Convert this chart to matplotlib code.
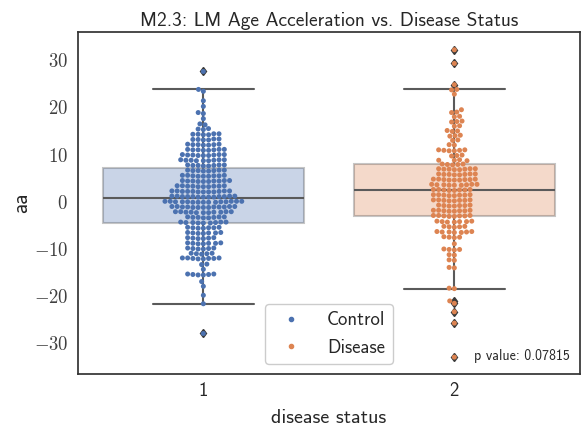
import matplotlib
matplotlib.use('Agg')
import matplotlib.pyplot as plt
from matplotlib.lines import Line2D
from matplotlib.ticker import FuncFormatter
import numpy as np
import pandas as pd
import seaborn as sns

control = [
    27.6,
    23.8, 23.4, 21.4, 20.2, 18.9, 18.7, 17.6, 16.5, 16.3,
    15.4, 15.5, 15.3,
    14.3, 14.4, 14.2, 14.3, 14.4, 14.2,
    13.2, 13.3, 13.1, 13.2, 13.3, 13.1,
    12.1, 12.2, 12.0, 12.1, 12.2, 12.0, 12.1,
    11.0, 11.1, 10.9, 11.0, 11.1, 10.9, 11.0, 11.1,
    9.9, 10.0, 9.8, 9.9, 10.0, 9.8, 9.9, 10.0, 9.8,
    8.8, 8.9, 8.7, 8.8, 8.9, 8.7, 8.8, 8.9, 8.7,
    7.7, 7.8, 7.6, 7.7, 7.8, 7.6, 7.7, 7.8,
    6.6, 6.7, 6.5, 6.6, 6.7, 6.5, 6.6, 6.7,
    5.5, 5.6, 5.4, 5.5, 5.6, 5.4, 5.5, 5.6, 5.4,
    4.4, 4.5, 4.3, 4.4, 4.5, 4.3, 4.4, 4.5, 4.3, 4.4,
    3.3, 3.4, 3.2, 3.3, 3.4, 3.2, 3.3, 3.4, 3.2, 3.3,
    2.2, 2.3, 2.1, 2.2, 2.3, 2.1, 2.2, 2.3, 2.1, 2.2, 2.3, 2.1,
    1.1, 1.2, 1.0, 1.1, 1.2, 1.0, 1.1, 1.2, 1.0, 1.1, 1.2, 1.0, 1.1,
    0.0, 0.1, -0.1, 0.0, 0.1, -0.1, 0.0, 0.1, -0.1, 0.0, 0.1, -0.1, 0.0, 0.1, -0.1,
    -1.1, -1.0, -1.2, -1.1, -1.0, -1.2, -1.1, -1.0, -1.2, -1.1, -1.0, -1.2, -1.1,
    -2.2, -2.1, -2.3, -2.2, -2.1, -2.3, -2.2, -2.1, -2.3, -2.2, -2.1,
    -3.3, -3.2, -3.4, -3.3, -3.2, -3.4, -3.3, -3.2,
    -4.4, -4.3, -4.5, -4.4, -4.3, -4.5, -4.4, -4.3, -4.5,
    -5.5, -5.4, -5.6, -5.5, -5.4, -5.6, -5.5,
    -6.6, -6.5, -6.7, -6.6, -6.5, -6.7, -6.6,
    -7.7, -7.6, -7.8, -7.7, -7.6, -7.8,
    -8.8, -8.7, -8.9, -8.8, -8.7, -8.9, -8.8,
    -9.9, -9.8, -10.0, -9.9, -9.8, -10.0,
    -11.0, -10.9, -11.1, -11.0, -10.9,
    -12.0, -11.9, -12.1, -12.0, -11.9, -12.1, -12.0, -11.9,
    -13.2, -13.3, -14.3,
    -15.4, -15.3, -15.5, -15.4, -15.3, -15.5,
    -16.9, -17.9, -19.8, -21.6,
    -27.9,
]

disease = [
    32.2, 29.3, 24.8,
    23.8, 23.7, 22.8, 19.5, 18.9, 19.0,
    18.0, 18.1,
    17.0, 17.1, 16.9,
    16.0, 16.1,
    15.0, 15.1, 14.9,
    14.0, 14.1, 13.9,
    13.0, 13.1,
    12.0, 12.1,
    10.9, 11.0, 10.8, 10.9, 11.0, 10.8,
    9.8, 9.9, 9.7,
    8.8, 8.9, 8.7, 8.8,
    7.9, 8.0, 7.8, 7.9, 8.0,
    6.9, 7.0, 6.8, 6.9, 7.0, 6.8, 6.9, 7.0,
    5.8, 5.9, 5.7, 5.8, 5.9, 5.7, 5.8, 5.9,
    4.7, 4.8, 4.6, 4.7, 4.8, 4.6, 4.7, 4.8, 4.6,
    3.6, 3.7, 3.5, 3.6, 3.7, 3.5, 3.6, 3.7, 3.5,
    2.5, 2.6, 2.4, 2.5, 2.6, 2.4, 2.5, 2.6,
    1.4, 1.5, 1.3, 1.4, 1.5, 1.3, 1.4, 1.5,
    0.3, 0.4, 0.2, 0.3, 0.4, 0.2, 0.3, 0.4,
    -0.8, -0.7, -0.9, -0.8, -0.7, -0.9, -0.8,
    -1.9, -1.8, -2.0, -1.9, -1.8, -2.0, -1.9, -1.8,
    -3.0, -2.9, -3.1, -3.0, -2.9, -3.1, -3.0, -2.9,
    -4.2, -4.1, -4.3, -4.2, -4.1, -4.3, -4.2,
    -5.3, -5.2, -5.4, -5.3, -5.2,
    -6.4, -6.3, -6.5, -6.4, -6.3, -6.5, -6.4,
    -7.5, -7.4, -7.6, -7.5,
    -8.9,
    -10.1, -10.0, -10.2, -10.1,
    -11.2, -11.3,
    -12.3, -12.4,
    -13.9, -14.0,
    -18.4, -18.3,
    -21.0, -21.5, -23.3, -25.7, -32.9,
]

groups = ['Control', 'Disease']
status_labels = ['1', '2']
# box statistics
q1 = [-4.6, -3.1]
med = [0.85, 2.6]
q3 = [7.1, 7.9]
whis_lo = [-21.6, -18.4]
whis_hi = [23.8, 23.8]
p_value = 0.07815

colors = ['#4c72b0', '#dd8452']

sns.set_style('white')
plt.rcParams['font.family'] = ['cmss10', 'DejaVu Sans']
plt.rcParams['mathtext.fontset'] = 'cm'

df = pd.DataFrame({
    'status': [status_labels[0]] * len(control) + [status_labels[1]] * len(disease),
    'aa': control + disease,
    'group': [groups[0]] * len(control) + [groups[1]] * len(disease),
})

fig = plt.figure(figsize=(5.81, 4.30), dpi=100)
ax = fig.add_axes([0.134, 0.130, 0.864, 0.796])

# box plot from the read statistics
stats = []
for i, vals in enumerate([control, disease]):
    v = np.array(vals)
    stats.append(dict(q1=q1[i], med=med[i], q3=q3[i], whislo=whis_lo[i], whishi=whis_hi[i],
                      fliers=v[(v < whis_lo[i]) | (v > whis_hi[i])]))

bp = ax.bxp(stats, positions=[0, 1], widths=0.8, capwidths=0.4, patch_artist=True,
            boxprops=dict(edgecolor='#3f3f3f', linewidth=1.5, alpha=0.3),
            whiskerprops=dict(color='#5a5a5a', linewidth=1.5),
            capprops=dict(color='#5a5a5a', linewidth=1.5),
            medianprops=dict(color='#5a5a5a', linewidth=1.5),
            flierprops=dict(marker='d', markerfacecolor='#3a3a3a', markeredgecolor='#3a3a3a',
                            markersize=4.5))
for patch, c in zip(bp['boxes'], colors):
    patch.set_facecolor(c)
    patch.set_zorder(1)
for key in ['whiskers', 'caps', 'medians', 'fliers']:
    for ln in bp[key]:
        ln.set_zorder(2)

sns.swarmplot(data=df, x='status', y='aa', hue='group', palette=colors,
              size=3.6, legend=False, ax=ax)
for coll in ax.collections:
    coll.set_zorder(3)

ax.set_xlim(-0.5, 1.5)
ax.set_ylim(-36.5, 36)
ax.set_xticks([0, 1])
ax.set_xticklabels(status_labels)
ax.set_yticks([-30, -20, -10, 0, 10, 20, 30])
ax.yaxis.set_major_formatter(FuncFormatter(lambda v, p: '$%d$' % v))
ax.tick_params(axis='y', length=0, pad=7, labelsize=13.5, labelcolor='0.25')
ax.tick_params(axis='x', length=0, pad=6, labelsize=13.5, labelcolor='0.15')

for s in ax.spines.values():
    s.set_color('0.2')
    s.set_linewidth(1.25)

ax.set_title('M2.3: LM Age Acceleration vs. Disease Status', fontsize=14, pad=4, color='0.15')
ax.set_xlabel('disease status', fontsize=14.5, color='0.15', labelpad=6)
ax.set_ylabel('aa', fontsize=15.5, color='0.15', labelpad=2)

handles = [Line2D([], [], marker='o', ls='', color=c, markersize=3) for c in colors]
ax.legend(handles, groups, loc='lower left', bbox_to_anchor=(0.373, 0.029),
          borderaxespad=0, fontsize=13.5, handletextpad=0.9, framealpha=1)

ax.text(0.79, 0.041, 'p value: %.5f' % p_value, transform=ax.transAxes,
        fontsize=10, color='0.15', va='baseline')

fig.savefig('out.png', dpi=100)
